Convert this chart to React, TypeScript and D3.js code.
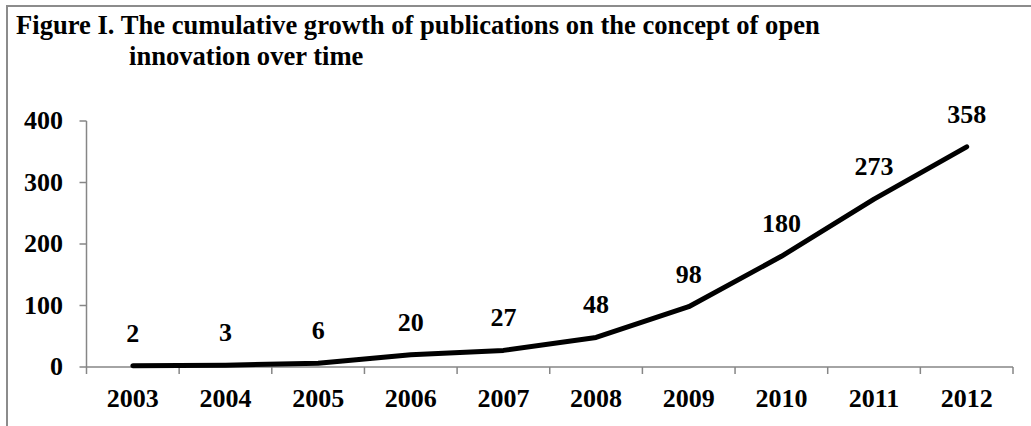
import React, { useEffect, useRef } from 'react';
import * as d3 from 'd3';

// chart data
const years = ['2003', '2004', '2005', '2006', '2007', '2008', '2009', '2010', '2011', '2012'];
const publications = [2, 3, 6, 20, 27, 48, 98, 180, 273, 358];
const yTicks = [0, 100, 200, 300, 400];
const titleLines = [
  'Figure I. The cumulative growth of publications on the concept of open',
  'innovation over time',
];

const App = () => {
  const svgRef = useRef<SVGSVGElement>(null);

  useEffect(() => {
    const svg = d3.select(svgRef.current);
    svg.selectAll('*').remove();

    const width = 1031;
    const height = 426;
    const font = '"Liberation Serif", "Times New Roman", serif';
    const axisColor = '#868686';
    const fs = 26;

    svg.attr('width', width).attr('height', height);

    // frame (only top and left edges fall inside the picture)
    svg.append('rect')
      .attr('x', 7).attr('y', 6)
      .attr('width', 1040).attr('height', 440)
      .attr('fill', '#fff')
      .attr('stroke', '#8c8c8c')
      .attr('stroke-width', 2);

    // title
    svg.append('text')
      .attr('x', 16).attr('y', 34)
      .attr('font-family', font).attr('font-weight', 'bold').attr('font-size', 26.6)
      .text(titleLines[0]);
    svg.append('text')
      .attr('x', 129).attr('y', 65)
      .attr('font-family', font).attr('font-weight', 'bold').attr('font-size', 26.6)
      .text(titleLines[1]);

    const x = d3.scaleBand().domain(years).range([86.5, 1013]);
    const y = d3.scaleLinear().domain([0, 400]).range([367, 121]);

    const g = svg.append('g');

    // y axis
    g.append('line')
      .attr('x1', x.range()[0]).attr('x2', x.range()[0])
      .attr('y1', y(0)).attr('y2', y(400))
      .attr('stroke', axisColor).attr('stroke-width', 1.5);
    g.selectAll('.ytick')
      .data(yTicks)
      .enter().append('line')
      .attr('x1', x.range()[0] - 7).attr('x2', x.range()[0])
      .attr('y1', d => y(d)).attr('y2', d => y(d))
      .attr('stroke', axisColor).attr('stroke-width', 1.5);
    g.selectAll('.ylab')
      .data(yTicks)
      .enter().append('text')
      .attr('x', 63)
      .attr('y', d => y(d) + 8)
      .attr('text-anchor', 'end')
      .attr('font-family', font).attr('font-weight', 'bold').attr('font-size', fs)
      .text(d => d);

    // x axis
    g.append('line')
      .attr('x1', x.range()[0]).attr('x2', x.range()[1])
      .attr('y1', y(0)).attr('y2', y(0))
      .attr('stroke', axisColor).attr('stroke-width', 1.5);
    const xTickPos = years.map(d => x(d) as number).concat([x.range()[1]]);
    g.selectAll('.xtick')
      .data(xTickPos)
      .enter().append('line')
      .attr('x1', d => d).attr('x2', d => d)
      .attr('y1', y(0)).attr('y2', y(0) + 7)
      .attr('stroke', axisColor).attr('stroke-width', 1.5);
    g.selectAll('.xlab')
      .data(years)
      .enter().append('text')
      .attr('x', d => (x(d) as number) + x.bandwidth() / 2)
      .attr('y', 407)
      .attr('text-anchor', 'middle')
      .attr('font-family', font).attr('font-weight', 'bold').attr('font-size', fs)
      .text(d => d);

    // line
    const line = d3.line<number>()
      .x((_, i) => (x(years[i]) as number) + x.bandwidth() / 2)
      .y(d => y(d));
    g.append('path')
      .datum(publications)
      .attr('d', line)
      .attr('fill', 'none')
      .attr('stroke', '#000')
      .attr('stroke-width', 5)
      .attr('stroke-linecap', 'round')
      .attr('stroke-linejoin', 'round');

    // data labels
    g.selectAll('.dlab')
      .data(publications)
      .enter().append('text')
      .attr('x', (_, i) => (x(years[i]) as number) + x.bandwidth() / 2)
      .attr('y', d => y(d) - 24)
      .attr('text-anchor', 'middle')
      .attr('font-family', font).attr('font-weight', 'bold').attr('font-size', fs)
      .text(d => d);
  }, []);

  return (
    <svg ref={svgRef} style={{ position: 'absolute', left: 0, top: 0, background: '#fff' }}></svg>
  );
};

export default App;
